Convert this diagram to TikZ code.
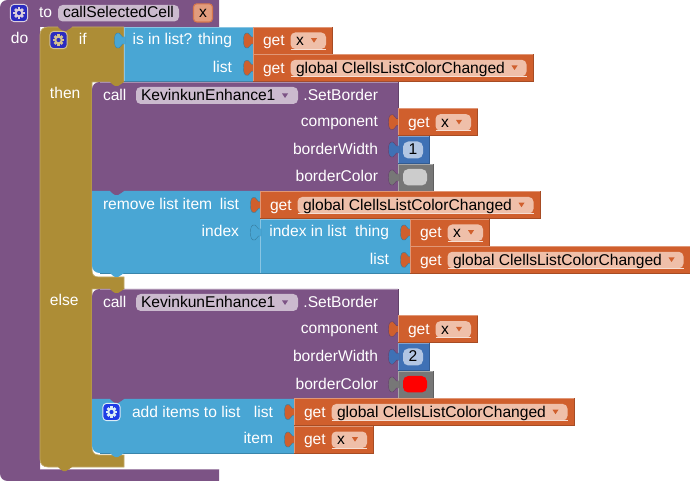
\documentclass[tikz,border=0pt]{standalone}
\usepackage{fontspec}
\setmainfont{Liberation Sans}
\definecolor{procpurple}{HTML}{7C5385}
\definecolor{ctrlgold}{HTML}{AD8D36}
\definecolor{listblue}{HTML}{49A6D4}
\definecolor{varorange}{HTML}{D05F2D}
\definecolor{mathblue}{HTML}{3F71B5}
\definecolor{colgray}{HTML}{777777}
\definecolor{fieldorange}{HTML}{EFBFA9}
\definecolor{fieldpurple}{HTML}{CBBACE}
\definecolor{fieldblue}{HTML}{B2C6E3}
\definecolor{mutatorbg}{HTML}{2B2BC0}
\definecolor{mutatorbright}{HTML}{1E3CE6}
\tikzset{
  x=0.75pt, y=-0.75pt,
  lbl/.style={text=white, font=\fontsize{11.7}{14}\selectfont, inner sep=0pt, outer sep=0pt},
  fieldtxt/.style={text=black, font=\fontsize{11.7}{14}\selectfont, inner sep=0pt, outer sep=0pt, anchor=base west},
}
% Block face with a light top and left bevel and a dark bottom and right bevel
\newcommand{\blockface}[5]{%
  \fill[#5] (#1,#2) rectangle (#3,#4);
  \draw[#5!65!white, line width=0.6pt] (#1,#4) -- (#1,#2) -- (#3,#2);
  \draw[#5!80!black, line width=0.6pt] (#3,#2) -- (#3,#4) -- (#1,#4);
}
% Puzzle tab on the left edge of a value block: a wide head on a short neck
\newcommand{\valuetab}[4]{%
  \begin{scope}[shift={(#1,#2)}]
    \filldraw[fill=#3, draw=#4, line width=0.3pt]
      (1,10) -- (-1.5,10) .. controls (-3,9.5) and (-3,6.5) .. (-5,6)
      .. controls (-8.5,5.5) and (-9.5,8) .. (-9.5,13.5)
      .. controls (-9.5,19) and (-8.5,21.5) .. (-5,21)
      .. controls (-3,20.5) and (-3,17.5) .. (-1.5,17) -- (1,17) -- cycle;
    \fill[#3] (-0.5,10) rectangle (1,17);
  \end{scope}
}
% Tab of a statement block hanging over the next block
\newcommand{\hangtab}[3]{%
  \begin{scope}[shift={(#1,#2)}]
    \fill[#3] (2,-1) -- (2,0) .. controls (3.5,0.5) and (4.5,3.5) .. (7,4)
      -- (10,4) .. controls (12.5,3.5) and (14,0.5) .. (16,0) -- (16,-1) -- cycle;
  \end{scope}
}
% Small dropdown marker of a field
\newcommand{\ddmark}[3]{%
  \fill[#3] ({#1-3},{#2-2}) -- ({#1+3},{#2-2}) -- (#1,{#2+2.5}) -- cycle;
}
% Variable getter: name, left, top, width, text
\newcommand{\getter}[5]{%
  \blockface{#2}{#3}{#2+#4}{#3+27.2}{varorange}
  \begin{scope}[shift={(#2,#3)}]
    \fill[fieldorange, rounded corners=3.5pt] (37.5,5.5) rectangle ({#4-6.5},22);
    \draw[white!50!fieldorange, line width=0.4pt, rounded corners=3.5pt] (37.5,22) -- ({#4-6.5},22);
    \node[lbl, anchor=base west] (#1get) at (10,19) {get};
    \node[fieldtxt] (#1var) at (43,19) {#5};
    \ddmark{#4-18.5}{13.2}{varorange}
  \end{scope}
}
% Gear icon of a mutator button
\newcommand{\gearicon}[4]{%
  \begin{scope}[shift={(#1,#2)}]
    \filldraw[fill=#3, draw=#4, line width=0.7pt, rounded corners=3pt] (-8.7,-8.7) rectangle (8.7,8.7);
    \foreach \a in {0,45,...,315} {
      \fill[#4, rotate=\a] (-1.4,-5.6) rectangle (1.4,0);
    }
    \fill[#4] (0,0) circle[radius=4.3];
    \fill[#3] (0,0) circle[radius=2.1];
  \end{scope}
}
\begin{document}
\begin{tikzpicture}
\useasboundingbox (0,0) rectangle (690,481);

% Procedure definition
\fill[procpurple] (0,8) .. controls (0,3) and (3,0) .. (8,0) -- (219,0) -- (219,27) -- (40,27)
  -- (40,469) -- (219,469) -- (219,481) -- (8,481) .. controls (3,481) and (0,478) .. (0,473) -- cycle;
\draw[procpurple!65!white, line width=0.5pt] (40,469) -- (219,469);
\fill[fieldpurple, rounded corners=3.5pt] (58,5) rectangle (179,21.5);
\filldraw[fill=varorange!62!white, draw=varorange!85!white, line width=0.8pt, rounded corners=2.5pt] (193.5,3.8) rectangle (212.5,22);
\gearicon{19}{13}{mutatorbg}{fieldpurple!70!white}
\node[lbl, anchor=base west] (toword) at (39,17.8) {to};
\node[fieldtxt] (procname) at (63,17.8) {callSelectedCell};
\node[fieldtxt, anchor=base] (param) at (203,18) {x};
\node[lbl, anchor=base west] (doword) at (11,44) {do};

% If / then / else frame
\filldraw[fill=ctrlgold, draw=ctrlgold!75!white, line width=0.5pt] (40,35) .. controls (40,30) and (43,27) .. (48,27) -- (124,27) -- (124,82) -- (92,82)
  -- (92,270) .. controls (92,275) and (94,277) .. (99,277) -- (124,277) -- (124,289) -- (92,289)
  -- (92,447) .. controls (92,452) and (94,455) .. (99,455) -- (124,455) -- (124,467) -- (48,467)
  .. controls (43,467) and (40,464) .. (40,459) -- cycle;
\hangtab{56}{467}{ctrlgold}
\hangtab{56}{27}{procpurple}
\gearicon{58.5}{40}{mutatorbg}{ctrlgold!55!white}
\node[lbl, anchor=base west] (ifword) at (79,45) {if};
\node[lbl, anchor=base west] (thenword) at (50,99) {then};
\node[lbl, anchor=base west] (elseword) at (50,306) {else};

% Membership test
\blockface{124}{27}{253}{81.5}{listblue}
\valuetab{124}{27}{listblue}{listblue!80!black}
\node[lbl, anchor=base east] (isinlist) at (232,45) {is in list? thing};
\node[lbl, anchor=base east] (isinlistb) at (232,73) {list};
\valuetab{253}{27}{varorange}{listblue!75!black}
\getter{ga}{253}{27}{79.5}{x}
\valuetab{253}{54.3}{varorange}{listblue!75!black}
\getter{gb}{253}{54.3}{280}{global ClellsListColorChanged}

% First border call
\fill[procpurple] (92,90) .. controls (92,85) and (95,82) .. (100,82) -- (398,82) -- (398,191) -- (92,191) -- cycle;
\draw[procpurple!65!white, line width=0.5pt] (100,82) -- (398,82);
\draw[procpurple!80!black, line width=0.5pt] (398,82) -- (398,191);
\hangtab{108}{82}{ctrlgold}
\fill[fieldpurple, rounded corners=3.5pt] (136,87) rectangle (298,104);
\node[lbl, anchor=base west] (calla) at (103,100.5) {call};
\node[fieldtxt] (compa) at (141,100.5) {KevinkunEnhance1};
\ddmark{285}{95.5}{procpurple}
\node[lbl, anchor=base east] (seta) at (378,100.5) {.SetBorder};
\node[lbl, anchor=base east] (cmpa) at (378,127) {component};
\node[lbl, anchor=base east] (bwa) at (378,154.5) {borderWidth};
\node[lbl, anchor=base east] (bca) at (378,182) {borderColor};
\valuetab{398}{108.7}{varorange}{procpurple!80!black}
\getter{gc}{398}{108.7}{79.5}{x}
\blockface{398}{136}{429}{163.5}{mathblue}
\valuetab{398}{136}{mathblue}{procpurple!80!black}
\fill[fieldblue, rounded corners=4pt] (403,141.5) rectangle (423,158.5);
\node[fieldtxt, anchor=base] (numa) at (413,155) {1};
\blockface{398}{164}{433}{191}{colgray}
\valuetab{398}{164}{colgray}{procpurple!80!black}
\fill[black!20, rounded corners=4pt] (403,169) rectangle (427,185.5);

% Removal from the list
\fill[listblue] (92,191) -- (260,191) -- (260,273) -- (100,273) .. controls (95,273) and (92,270) .. (92,265) -- cycle;
\draw[listblue!80!black, line width=0.5pt] (260,191) -- (260,273) -- (100,273);
\hangtab{108}{191}{procpurple}
\hangtab{108}{273}{listblue}
\node[lbl, anchor=base west] (rema) at (103,210) {remove list item};
\node[lbl, anchor=base east] (remb) at (239,210) {list};
\node[lbl, anchor=base east] (remc) at (239,237) {index};
\valuetab{260}{191.5}{varorange}{listblue!75!black}
\getter{gd}{260}{191.5}{280}{global ClellsListColorChanged}

% Index lookup
\blockface{260}{219}{410}{273.3}{listblue}
\valuetab{260}{219}{listblue}{listblue!75!black}
\node[lbl, anchor=base east] (idxa) at (389,237) {index in list\ \ thing};
\node[lbl, anchor=base east] (idxb) at (389,265) {list};
\valuetab{410}{219}{varorange}{listblue!75!black}
\getter{ge}{410}{219}{79.5}{x}
\valuetab{410}{246.3}{varorange}{listblue!75!black}
\getter{gf}{410}{246.3}{280}{global ClellsListColorChanged}

% Second border call
\fill[procpurple] (92,297) .. controls (92,292) and (95,289) .. (100,289) -- (398,289) -- (398,399) -- (92,399) -- cycle;
\draw[procpurple!65!white, line width=0.5pt] (100,289) -- (398,289);
\draw[procpurple!80!black, line width=0.5pt] (398,289) -- (398,399);
\hangtab{108}{289}{ctrlgold}
\fill[fieldpurple, rounded corners=3.5pt] (136,294) rectangle (298,311);
\node[lbl, anchor=base west] (callb) at (103,307.5) {call};
\node[fieldtxt] (compb) at (141,307.5) {KevinkunEnhance1};
\ddmark{285}{302.5}{procpurple}
\node[lbl, anchor=base east] (setb) at (378,307.5) {.SetBorder};
\node[lbl, anchor=base east] (cmpb) at (378,334) {component};
\node[lbl, anchor=base east] (bwb) at (378,362) {borderWidth};
\node[lbl, anchor=base east] (bcb) at (378,389) {borderColor};
\valuetab{398}{315.7}{varorange}{procpurple!80!black}
\getter{gg}{398}{315.7}{79.5}{x}
\blockface{398}{343.2}{429}{370.7}{mathblue}
\valuetab{398}{343.2}{mathblue}{procpurple!80!black}
\fill[fieldblue, rounded corners=4pt] (403,348.5) rectangle (423,365.5);
\node[fieldtxt, anchor=base] (numb) at (413,362) {2};
\blockface{398}{371}{433}{398.5}{colgray}
\valuetab{398}{371}{colgray}{procpurple!80!black}
\fill[red, rounded corners=4pt] (403,376) rectangle (427,392.5);

% Adding to the list
\fill[listblue] (92,399) -- (294,399) -- (294,453) -- (100,453) .. controls (95,453) and (92,450) .. (92,445) -- cycle;
\draw[listblue!80!black, line width=0.5pt] (294,399) -- (294,453) -- (100,453);
\hangtab{108}{399}{procpurple}
\hangtab{108}{453}{listblue}
\gearicon{111.5}{412}{mutatorbright}{white!80!listblue}
\node[lbl, anchor=base west] (adda) at (132,417) {add items to list};
\node[lbl, anchor=base east] (addb) at (273,417) {list};
\node[lbl, anchor=base east] (addc) at (273,444) {item};
\valuetab{294}{398.5}{varorange}{listblue!75!black}
\getter{gh}{294}{398.5}{280}{global ClellsListColorChanged}
\valuetab{294}{426}{varorange}{listblue!75!black}
\getter{gi}{294}{426}{79.5}{x}
\end{tikzpicture}
\end{document}
